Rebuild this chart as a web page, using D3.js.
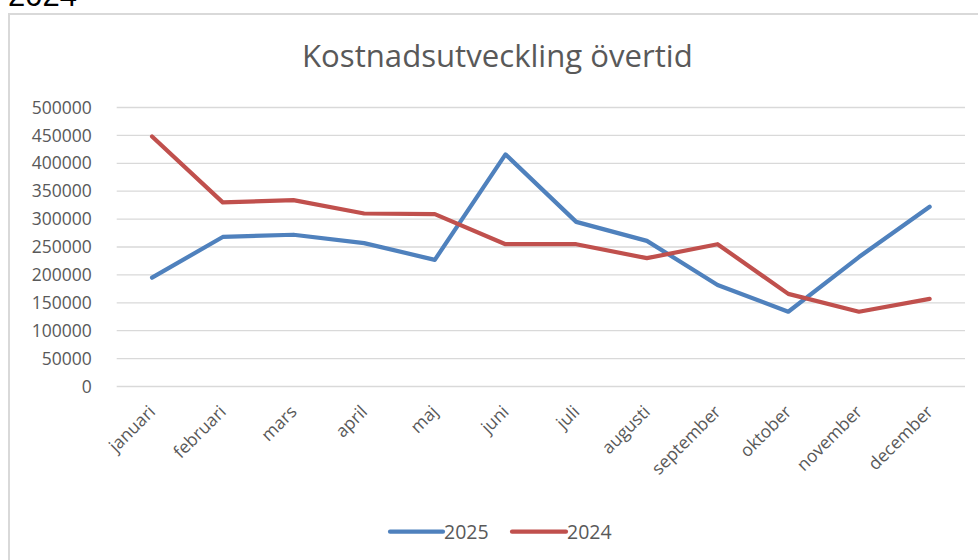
<!DOCTYPE html>
<html>
<head>
<meta charset="utf-8">
<script src="https://cdn.jsdelivr.net/npm/d3@7"></script>
<style>
  html, body { margin: 0; padding: 0; background: #fff; }
  svg { display: block; }
</style>
</head>
<body>
<svg id="chart" width="978" height="560"></svg>
<script>
const months = ["januari","februari","mars","april","maj","juni","juli","augusti","september","oktober","november","december"];
const values2025 = [195000, 268000, 272000, 257000, 227000, 416000, 295000, 261000, 182000, 134000, 232000, 322000];
const values2024 = [448000, 330000, 334000, 310000, 309000, 255000, 255000, 230000, 255000, 166000, 134000, 157000];
const yTicks = [0, 50000, 100000, 150000, 200000, 250000, 300000, 350000, 400000, 450000, 500000];
const seriesNames = ["2025", "2024"];
const chartTitle = "Kostnadsutveckling övertid";
const topText = "2024";

const colors = {"2025": "#4f81bd", "2024": "#c0504d"};
const font = "'Open Sans', 'Noto Sans', sans-serif";
const textColor = "#595959";

const svg = d3.select("#chart");

// stray heading text cut off at top
svg.append("text").attr("x", 8).attr("y", 6)
  .attr("font-family", "'Liberation Sans', Arial, sans-serif")
  .attr("font-size", 31).attr("fill", "#000").text(topText);

// chart area border
svg.append("rect").attr("x", 9).attr("y", 14).attr("width", 1000).attr("height", 600)
  .attr("fill", "#fff").attr("stroke", "#d9d9d9").attr("stroke-width", 2);

const plotLeft = 116.7, plotRight = 965, plotTop = 107.5, plotBottom = 386.5;

const x = d3.scaleBand().domain(months).range([plotLeft, plotRight]).padding(0);
const cx = m => x(m) + x.bandwidth() / 2;
const y = d3.scaleLinear().domain([0, 500000]).range([plotBottom, plotTop]);

// title
const title = svg.append("text").attr("x", 497.4).attr("y", 66.7)
  .attr("text-anchor", "middle").attr("font-family", font)
  .attr("font-size", 32).attr("fill", textColor).text(chartTitle);
const tw = title.node().getComputedTextLength();
title.attr("font-size", 32 * 391 / tw);

// gridlines
svg.append("g").selectAll("line").data(yTicks).join("line")
  .attr("x1", plotLeft).attr("x2", plotRight)
  .attr("y1", d => y(d)).attr("y2", d => y(d))
  .attr("stroke", "#d9d9d9").attr("stroke-width", 1.3);

// y axis labels
const yAxis = svg.append("g").attr("transform", `translate(${plotLeft},0)`)
  .call(d3.axisLeft(y).tickValues(yTicks).tickSize(0).tickPadding(25).tickFormat(d3.format("d")));
yAxis.select(".domain").remove();
yAxis.selectAll("text").attr("font-family", font).attr("font-size", 17.5).attr("fill", textColor);

// x axis labels
const xAxis = svg.append("g").attr("transform", `translate(0,${plotBottom})`)
  .call(d3.axisBottom(x).tickSize(0).tickPadding(0));
xAxis.select(".domain").remove();
xAxis.selectAll(".tick text")
  .attr("font-family", font).attr("font-size", 17.5).attr("fill", textColor)
  .attr("text-anchor", "end")
  .attr("y", 0).attr("dy", "0.27em")
  .attr("transform", "translate(1,23) rotate(-45)");

// lines
const series = [
  {name: "2025", values: values2025},
  {name: "2024", values: values2024}
];
const line = d3.line().x((d, i) => cx(months[i])).y(d => y(d));
svg.append("g").selectAll("path").data(series).join("path")
  .attr("d", d => line(d.values))
  .attr("fill", "none")
  .attr("stroke", d => colors[d.name])
  .attr("stroke-width", 4.2)
  .attr("stroke-linejoin", "round")
  .attr("stroke-linecap", "round");

// legend
const legendItems = [
  {name: seriesNames[0], x1: 390, x2: 443},
  {name: seriesNames[1], x1: 512, x2: 566}
];
const lg = svg.append("g");
legendItems.forEach(it => {
  lg.append("line").attr("x1", it.x1).attr("x2", it.x2).attr("y1", 531.7).attr("y2", 531.7)
    .attr("stroke", colors[it.name]).attr("stroke-width", 4.2).attr("stroke-linecap", "round");
  lg.append("text").attr("x", it.x2 + 1).attr("y", 538.5)
    .attr("font-family", font).attr("font-size", 19.5).attr("fill", textColor).text(it.name);
});
</script>
</body>
</html>
